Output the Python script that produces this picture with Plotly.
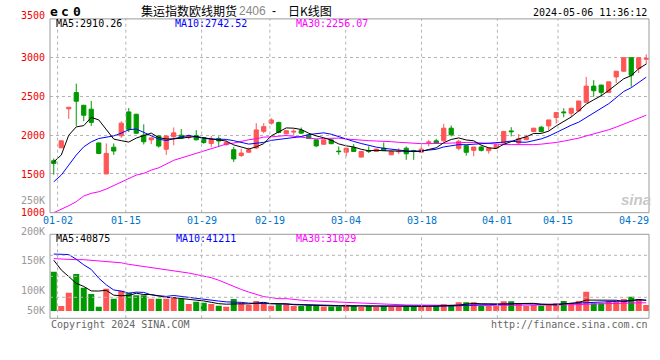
import plotly.graph_objects as go
import pandas as pd

W, H = 660, 360
def px(x): return x / W
def py(y): return 1 - y / H

dates = ["12-29","01-02","01-03","01-04","01-05","01-08","01-09","01-10","01-11","01-12","01-15",
         "01-16","01-17","01-18","01-19","01-22","01-23","01-24","01-25","01-26","01-29",
         "01-30","01-31","02-01","02-02","02-05","02-06","02-07","02-08","02-19","02-20",
         "02-21","02-22","02-23","02-26","02-27","02-28","02-29","03-01","03-04","03-05",
         "03-06","03-07","03-08","03-11","03-12","03-13","03-14","03-15","03-18","03-19",
         "03-20","03-21","03-22","03-25","03-26","03-27","03-28","03-29","04-01","04-02",
         "04-03","04-08","04-09","04-10","04-11","04-12","04-15","04-16","04-17","04-18",
         "04-19","04-22","04-23","04-24","04-25","04-26","04-29","04-30","05-06"]

open_ = [1670,1837,2340,2550,2386,2335,1900,1500,1845,1992,2300,2270,2000,1940,1990,1818,1980,2000,1972,1995,
         1970,1893,1955,1878,1813,1737,1780,1835,2050,2155,2163,2018,2040,2060,2000,1940,1883,1940,1795,1781,
         1841,1717,1800,1790,1832,1747,1786,1832,1802,1781,1905,1927,1928,2090,1830,1864,1804,1847,1800,1834,
         1898,2055,1898,1941,2048,2103,2120,2227,2300,2283,2313,2424,2633,2646,2552,2752,2825,3000,2859,2980]
high = [1700,1930,2362,2665,2390,2440,1905,1893,1893,2180,2350,2275,2140,1968,2000,1995,2100,2080,2010,2065,
        1975,1990,1985,1930,1850,1825,1840,2155,2155,2220,2175,2065,2077,2099,2005,1945,1945,1950,1855,1835,
        1884,1795,1855,1825,1906,1795,1832,1855,1811,1855,1940,1953,2146,2125,1941,1877,1850,1860,1840,1880,
        2056,2103,2014,2005,2095,2120,2197,2291,2347,2347,2441,2752,2710,2650,2690,2825,3000,3000,3000,3043]
low = [1490,1835,2210,2120,2180,2120,1760,1498,1745,1965,2040,2015,1880,1885,1840,1745,1870,1955,1950,1935,
       1890,1845,1845,1865,1655,1720,1770,1820,2025,2135,2025,2010,1996,2017,1950,1846,1878,1885,1747,1726,
       1788,1715,1769,1788,1800,1745,1755,1682,1682,1778,1855,1895,1916,1984,1804,1736,1728,1790,1762,1830,
       1895,1984,1877,1935,2040,2035,2060,2150,2231,2235,2300,2420,2496,2496,2550,2673,2820,2624,2802,2915]
close = [1635,1927,2360,2438,2257,2165,1765,1765,1795,2155,2075,2025,1915,1965,1860,1990,2030,1960,1995,1940,
         1905,1945,1925,1905,1693,1770,1812,2068,2110,2197,2035,2058,2050,2026,1957,1862,1940,1890,1788,1832,
         1790,1790,1792,1820,1803,1790,1792,1760,1796,1820,1912,1897,2090,2005,1920,1779,1847,1804,1834,1877,
         2048,2045,1954,1975,2090,2048,2197,2291,2290,2347,2441,2633,2573,2552,2688,2825,3000,2774,3000,2990]
volume = [126600,59700,85700,122000,95400,83000,58400,93500,74000,89600,85700,80600,80600,74000,74000,74000,
          77000,73400,63600,68000,66200,63600,60300,58400,73400,65000,61700,69500,65000,60300,63000,63000,
          60000,60000,61000,61000,59000,59000,59000,62000,60000,58000,60000,58000,60000,58000,58000,60000,
          60000,60000,58000,60000,63000,60000,67000,67000,67000,60000,60000,60000,69000,69000,65000,60000,
          61700,60300,63000,65000,69500,65000,69500,87600,65000,65000,69500,68000,73400,77900,73400,61700]

ma5_head = [1656,1743,2000,2107]
ma10_head = [1399,1485,1614,1743,1850,1914,1957,1978,1991]
ma30_head = [1000,1043,1090,1142,1215,1250,1270,1305,1348,1399,1443,1485,1507,1550,1579,1627,1676,1706,
             1736,1770,1800,1834,1864,1885,1898,1920,1941,1954,1975]
vma5_head = [149000,130000,117000,104000]
vma10_head = [161000,161000,160000,151000,140000,131000,114000,101000,91000]
vma30_head = [152000,151000,151000,150000,150000,149000,148000,147000,146000,144000,141000,139000,137000,
              135000,133000,131000,129000,127000,124000,121000,118000,115000,110000,104000,97000,92000,
              87000,82000,78000]

c = pd.Series(close, dtype=float)
v = pd.Series(volume, dtype=float)
def ma(s, n, head):
    r = s.rolling(n).mean().tolist()
    return head + r[len(head):]
ma5 = ma(c, 5, ma5_head); ma10 = ma(c, 10, ma10_head); ma30 = ma(c, 30, ma30_head)
vma5 = ma(v, 5, vma5_head); vma10 = ma(v, 10, vma10_head); vma30 = ma(v, 30, vma30_head)

RED, GREEN = "#ff5555", "#009900"
idx = list(range(len(dates)))
grid_dates = ["01-02","01-15","01-29","02-19","03-04","03-18","04-01","04-15"]
label_dates = grid_dates + ["04-29"]
N1 = len(dates) - 1

fig = go.Figure()
fig.add_trace(go.Candlestick(x=idx, open=open_, high=high, low=low, close=close,
    increasing=dict(line=dict(color=RED, width=1), fillcolor=RED),
    decreasing=dict(line=dict(color=GREEN, width=1), fillcolor=GREEN),
    whiskerwidth=0, xaxis="x", yaxis="y", hoverinfo="skip"))
for vals, col in [(ma30, "#ff00ff"), (ma10, "#0000ff"), (ma5, "#000000")]:
    fig.add_trace(go.Scatter(x=idx, y=vals, mode="lines", line=dict(color=col, width=1),
                             xaxis="x", yaxis="y", hoverinfo="skip"))
bar_cols = [RED if cl >= op else GREEN for op, cl in zip(open_, close)]
fig.add_trace(go.Bar(x=idx, y=[vv - 50000 for vv in volume], base=50000, width=0.8,
                     marker=dict(color=bar_cols, line=dict(width=0)), xaxis="x2", yaxis="y2",
                     hoverinfo="skip"))
for vals, col in [(vma30, "#ff00ff"), (vma10, "#0000ff"), (vma5, "#000000")]:
    fig.add_trace(go.Scatter(x=idx, y=vals, mode="lines", line=dict(color=col, width=1),
                             xaxis="x2", yaxis="y2", hoverinfo="skip"))

GRID = "#b4b4b4"
xr = [-0.5, 79.37]
fig.update_layout(
    width=W, height=H, margin=dict(l=0, r=0, t=0, b=0),
    paper_bgcolor="white", plot_bgcolor="white", showlegend=False, boxgap=0.2,
    xaxis=dict(domain=[px(50), px(649)], range=xr, showticklabels=False, showgrid=False,
               zeroline=False, rangeslider=dict(visible=False), anchor="y"),
    yaxis=dict(domain=[py(212.7), py(18.9)], range=[1000, 3500], tickvals=[1500, 2000, 2500, 3000],
               showticklabels=False, showgrid=True, gridcolor=GRID, griddash="dot", zeroline=False,
               anchor="x"),
    xaxis2=dict(domain=[px(50), px(649)], range=xr, showticklabels=False, showgrid=False,
                zeroline=False, anchor="y2"),
    yaxis2=dict(domain=[py(318.3), py(234.3)], range=[35800, 199500], showticklabels=False,
                showgrid=False, zeroline=False, anchor="x2"),
)

shapes = []
for d in grid_dates:
    f = dates.index(d) / N1
    for xrf, yrf in [("x domain", "y domain"), ("x2 domain", "y2 domain")]:
        shapes.append(dict(type="line", xref=xrf, yref=yrf, x0=f, x1=f, y0=0, y1=1,
                           line=dict(color=GRID, width=1, dash="dot")))
for f in [0.25, 0.5, 0.75]:
    shapes.append(dict(type="line", xref="x2 domain", yref="y2 domain", x0=0, x1=1, y0=f, y1=f,
                       line=dict(color=GRID, width=1, dash="dot")))
for yr, xrf in [("y domain", "x domain"), ("y2 domain", "x2 domain")]:
    shapes.append(dict(type="rect", xref=xrf, yref=yr, x0=0, x1=1, y0=0, y1=1,
                       line=dict(color="#9a9a9a", width=1)))
fig.update_layout(shapes=shapes)

MONO = "DejaVu Sans Mono"
CJK = "Noto Sans CJK SC"
ann = []
def text(x, y, s, color="#000", size=10, anchor="left", family=MONO, **kw):
    ann.append(dict(x=px(x), y=py(y), xref="paper", yref="paper", text=s, showarrow=False,
                    xanchor=anchor, yanchor="middle", font=dict(family=family, size=size, color=color),
                    **kw))

for lab, yy in [("3500", 15.5), ("3000", 57.3), ("2500", 96.3), ("2000", 135.3), ("1500", 174), ("1000", 212.5)]:
    text(46.5, yy, lab, color="#ee0000", anchor="right")
text(46.5, 200.5, "250K", color="#999999", anchor="right")
for lab, yy in [("200K", 231), ("150K", 260), ("100K", 290), ("50K", 310)]:
    text(47, yy, lab, color="#999999", anchor="right")
for d in label_dates:
    xx = 50 + 599 * dates.index(d) / N1
    text(xx, 220.5, d, color="#0073c6", anchor="center")

for ch, xx in [("e", 53.5), ("c", 65), ("0", 77)]:
    text(xx, 12, "<b>" + ch + "</b>", size=13, anchor="center")
text(139, 10.5, "集运指数欧线期货", size=12, family=CJK)
text(236.5, 11, "2406", color="#888888", size=12, family="Liberation Sans")
text(274, 10.5, "-", size=12, anchor="center", family="Liberation Sans")
text(286, 10.5, "日K线图", size=12, family=CJK)
text(649, 12.5, "2024-05-06 11:36:12", anchor="right")
text(54, 24, "MA5:2910.26")
text(173, 24, "MA10:2742.52", color="#0000ff")
text(294, 24, "MA30:2256.07", color="#ff00ff")
text(54, 238, "MA5:40875")
text(174, 238, "MA10:41211", color="#0000ff")
text(294, 238, "MA30:31029", color="#ff00ff")
text(49, 324, "Copyright 2024 SINA.COM", color="#666666")
text(650, 324, "http://finance.sina.com.cn", color="#666666", anchor="right")
text(636, 199, "<b><i>sina</i></b>", color="#c8c8c8", size=15, anchor="center", family="Liberation Sans")
fig.update_layout(annotations=ann)

fig.write_html("out.html", config={"displayModeBar": False},
               post_script="document.body.style.margin='0';document.body.style.padding='0';")
